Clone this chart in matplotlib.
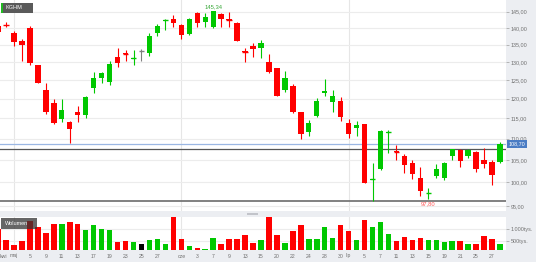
import numpy as np
import matplotlib
matplotlib.use("Agg")
import matplotlib.pyplot as plt
from matplotlib.patches import Rectangle
from matplotlib.ticker import FixedLocator, NullLocator, FuncFormatter

plt.rcParams['font.family'] = ['Liberation Sans', 'DejaVu Sans']

# -------------------------------
# Data: KGHM daily candles, 28 kwi - 28 lip (prices in PLN, volume in tys.)
# -------------------------------
opens = [140.6, 141.0, 138.3, 136.1, 139.9, 129.0, 122.3, 118.8, 114.8, 114.0,
         116.5, 115.9, 122.9, 125.6, 124.5, 131.5, 132.4, 130.9, 133.1, 132.6,
         138.5, 142.0, 142.7, 140.9, 138.0, 144.7, 141.7, 140.3, 144.3, 142.7,
         141.6, 133.0, 134.6, 134.1, 130.1, 128.2, 122.3, 123.3, 116.5, 111.7,
         115.6, 121.6, 119.1, 119.4, 113.9, 112.7, 113.5, 100.6, 102.9, 111.4,
         107.0, 105.9, 104.3, 101.0, 97.7, 101.5, 101.0, 106.0, 107.3, 106.0,
         106.9, 105.1, 104.6, 104.6]
highs = [141.5, 141.7, 139.0, 136.5, 140.6, 129.1, 124.1, 120.0, 119.8, 114.4,
         118.0, 120.8, 127.3, 127.3, 130.3, 133.9, 133.3, 133.3, 133.7, 138.3,
         141.2, 142.7, 144.0, 141.2, 142.9, 145.0, 144.5, 145.34, 144.7, 145.0,
         141.8, 133.9, 135.5, 136.3, 132.3, 128.4, 127.5, 123.8, 116.6, 114.5,
         120.1, 125.2, 122.3, 120.4, 114.8, 114.3, 113.6, 104.3, 112.0, 112.1,
         108.5, 106.3, 105.1, 103.5, 98.9, 104.1, 104.6, 107.6, 107.5, 107.5,
         107.0, 107.7, 105.0, 109.3]
lows = [138.2, 140.3, 134.7, 130.3, 129.1, 124.1, 116.1, 113.5, 114.0, 109.0,
        114.0, 115.1, 121.6, 124.1, 123.6, 128.6, 130.3, 129.0, 130.3, 131.7,
        137.5, 139.4, 140.3, 136.5, 137.8, 140.2, 140.3, 140.0, 140.3, 140.3,
        135.9, 129.9, 131.5, 131.0, 127.0, 120.6, 121.8, 116.2, 109.8, 110.6,
        115.4, 120.8, 116.5, 114.3, 110.2, 110.7, 99.8, 96.0, 102.8, 106.7,
        105.0, 102.0, 100.7, 97.0, 96.4, 101.0, 100.5, 105.0, 103.5, 105.4,
        102.4, 103.3, 99.5, 104.3]
closes = [138.8, 140.9, 135.8, 135.0, 129.6, 124.2, 116.6, 113.7, 117.2, 112.3,
          115.8, 120.4, 125.6, 126.8, 129.4, 129.6, 132.2, 131.1, 133.1, 137.5,
          140.6, 142.3, 141.4, 137.8, 142.6, 141.4, 143.2, 145.2, 142.6, 142.5,
          136.0, 132.8, 133.6, 135.5, 127.1, 120.8, 125.6, 116.6, 111.0, 113.7,
          119.4, 122.0, 120.8, 115.4, 111.0, 113.3, 99.9, 100.8, 111.8, 111.6,
          106.8, 103.9, 101.8, 98.1, 97.8, 103.0, 104.4, 107.5, 104.8, 107.3,
          102.9, 104.1, 101.6, 108.7]
volumes = [1034, 543, 316, 500, 1368, 1090, 855, 1239, 1239, 1303,
           1218, 970, 1171, 1013, 983, 444, 487, 444, 372, 543,
           585, 372, 1513, 585, 286, 214, 171, 615, 359, 598,
           598, 756, 402, 543, 1538, 744, 402, 940, 1171, 573,
           573, 1085, 628, 1197, 915, 543, 1397, 1111, 1325, 786,
           500, 684, 543, 641, 556, 556, 444, 513, 513, 385,
           372, 714, 585, 359]

tick_pos = [0, 2, 4, 6, 8, 10, 12, 14, 16, 18, 20, 23, 25, 27, 29, 31, 33,
            35, 37, 39, 41, 43, 44, 46, 48, 50, 52, 54, 56, 58, 60, 62]
tick_text = ['kwi', 'maj', '5', '9', '11', '13', '17', '19', '23', '25', '27',
             'cze', '3', '7', '9', '13', '15', '20', '22', '24', '28', '30',
             'lip', '5', '7', '11', '13', '15', '19', '21', '25', '27']
month_starts = [2, 23, 44]

price_ticks = [95, 100, 105, 110, 115, 120, 125, 130, 135, 140, 145]
vol_ticks = [500, 1000]
vol_tick_text = ['500tys.', '1.000tys.']

last_price = 108.70
ref_line = 107.66
support_line = 96.0
max_idx, max_text = 27, '145,34'
min_idx, min_text = 54, '97,80'

# -------------------------------
# Colours / layout helpers
# -------------------------------
UP, DOWN, FLAT = '#00c800', '#ff0000', '#808080'
STRIP = '#eceef2'
W, H = 536, 262
X_LEFT, X_RIGHT = 0.242, 63.75


def px_box(x0, y0, x1, y1):
    return [x0 / W, 1 - y1 / H, (x1 - x0) / W, (y1 - y0) / H]


o = np.array(opens)
c = np.array(closes)
x = np.arange(len(o))
colors = np.where(c > o, UP, np.where(c < o, DOWN, FLAT))
vol_colors = np.where(c > o, UP, np.where(c < o, DOWN, '#000000'))

fig = plt.figure(figsize=(5.36, 2.62), dpi=100)
fig.patch.set_facecolor(STRIP)

ax = fig.add_axes(px_box(0, 0, 506, 210.7))
axv = fig.add_axes(px_box(0, 217, 506, 249.5), sharex=ax)

# -------------------------------
# Price pane
# -------------------------------
ax.set_yscale('log')
ax.set_ylim(94.04, 148.74)
ax.set_xlim(X_LEFT, X_RIGHT)

ax.vlines(x, lows, highs, colors=colors, lw=0.8, zorder=3)
ax.bar(x, np.abs(c - o), bottom=np.minimum(o, c), width=0.67,
       color=colors, zorder=4)
small = np.abs(c - o) < 0.35
ax.hlines(c[small], x[small] - 0.35, x[small] + 0.35, colors=colors[small],
          lw=1.0, zorder=4)

ax.axhline(last_price, color='#9bb7e3', lw=0.9, zorder=2)
ax.axhline(ref_line, color='#555555', lw=0.9, zorder=2)
ax.axhline(support_line, color='#777777', lw=1.3, zorder=2)

ax.annotate(max_text, xy=(max_idx, highs[max_idx]), xytext=(0, 1),
            textcoords='offset points', ha='center', va='bottom',
            fontsize=4.2, color='#3aa83a')
ax.annotate(min_text, xy=(min_idx, lows[min_idx]), xytext=(0, -1.5),
            textcoords='offset points', ha='center', va='top',
            fontsize=4.2, color='#ff5a5a')

ax.yaxis.tick_right()
ax.yaxis.set_major_locator(FixedLocator(price_ticks))
ax.yaxis.set_minor_locator(NullLocator())
ax.yaxis.set_major_formatter(FuncFormatter(lambda v, _: f"{v:.2f}".replace('.', ',')))
ax.tick_params(axis='y', direction='out', length=2.5, width=0.6, color='#aaaaaa',
               labelsize=3.9, labelcolor='#707070', pad=1)
ax.tick_params(axis='x', length=0, labelbottom=False)
ax.grid(axis='y', color='#ececec', lw=0.8)
ax.set_axisbelow(True)

ax.text(1.0 + 3 / 506, last_price, '108,70', transform=ax.get_yaxis_transform(),
        ha='left', va='center', fontsize=3.9, color='white', clip_on=False,
        zorder=6, bbox=dict(boxstyle='square,pad=0.3', fc='#4a7cc4', ec='none'))

# -------------------------------
# Volume pane
# -------------------------------
axv.bar(x, volumes, width=0.69, color=vol_colors, zorder=3)
axv.set_ylim(137, 1526)
axv.yaxis.tick_right()
axv.set_yticks(vol_ticks)
axv.set_yticklabels(vol_tick_text)
axv.tick_params(axis='y', direction='out', length=2.5, width=0.6, color='#aaaaaa',
                labelsize=3.9, labelcolor='#707070', pad=1)
axv.tick_params(axis='x', length=0, labelbottom=False)
axv.grid(axis='y', color='#ececec', lw=0.8)
axv.set_axisbelow(True)

for a in (ax, axv):
    for s in a.spines.values():
        s.set_visible(False)
    for m in month_starts:
        a.axvline(m, color='#e6e6e6', lw=0.8, zorder=0)

# date labels; one left of the visible range is pinned to the left edge
for p, t in zip(tick_pos, tick_text):
    if p < X_LEFT + 0.3:
        axv.text(X_LEFT, -0.2, t, transform=axv.get_xaxis_transform(), ha='left',
                 va='center', fontsize=3.7, color='#707070', clip_on=False)
    else:
        axv.text(p, -0.2, t, transform=axv.get_xaxis_transform(), ha='center',
                 va='center', fontsize=3.7, color='#707070', clip_on=False)

# -------------------------------
# Decorations: title tag, separator handle, volume tag
# -------------------------------
fig.add_artist(Rectangle(px_box(1, 2.7, 33, 12.7)[:2], 32 / W, 10 / H,
                         transform=fig.transFigure, fc='#5a5a5a', ec='none'))
fig.add_artist(Rectangle(px_box(1, 2.7, 2.8, 12.7)[:2], 1.8 / W, 10 / H,
                         transform=fig.transFigure, fc='#22bb22', ec='none'))
fig.text(5 / W, 1 - 7.8 / H, 'KGHM', fontsize=4, color='white', va='center')

fig.add_artist(Rectangle(px_box(247, 212.7, 258, 215.3)[:2], 11 / W, 2.6 / H,
                         transform=fig.transFigure, fc='#c2c4ca', ec='none'))

fig.add_artist(Rectangle(px_box(1, 218, 37, 229)[:2], 36 / W, 11 / H,
                         transform=fig.transFigure, fc='#333333', ec='none',
                         alpha=0.75))
fig.text(4.5 / W, 1 - 223.5 / H, 'Wolumen', fontsize=4, color='white', va='center')

fig.savefig('out.png', dpi=100, facecolor=fig.get_facecolor())
